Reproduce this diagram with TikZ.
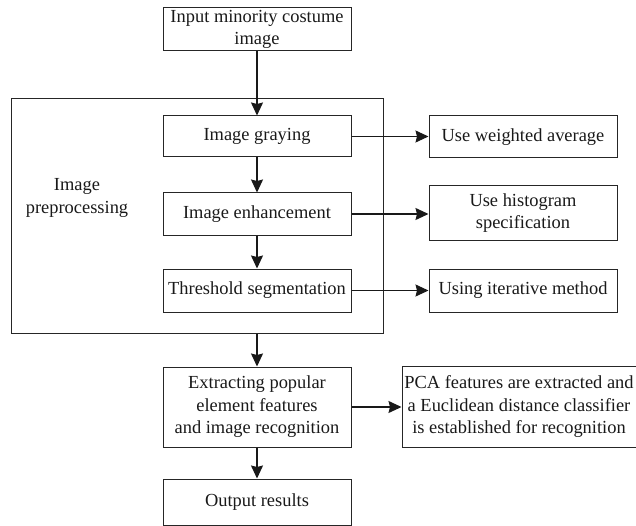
\documentclass[tikz,border=0pt]{standalone}
\usepackage{fontspec}
\setmainfont{Liberation Serif}
\usetikzlibrary{arrows.meta}
\begin{document}
\begin{tikzpicture}[x=1bp,y=-1bp,
  every node/.style={font=\fontsize{18.5}{22.5}\selectfont, text=black!90},
  box/.style={draw=black!85, line width=1bp, minimum width=188bp, inner sep=0pt, align=center},
  conn/.style={draw=black!90, line width=1.2bp, -{Stealth[length=13bp,width=12bp,inset=1.5bp]}},
]
\useasboundingbox (0,0) rectangle (636,526);
% outer preprocessing frame
\node[draw=black!85, line width=1bp, minimum width=371bp, minimum height=234bp, inner sep=0pt] (outer) at (197.5,216) {};
\node[align=center] (plabel) at (77,198) {Image\\preprocessing};

\node[box, minimum height=43bp] (input) at (257,29.5) {Input minority costume\\image};
\node[box, minimum height=41bp] (gray) at (257,136.5) {Image graying};
\node[box, minimum height=42bp] (enh) at (257,214) {Image enhancement};
\node[box, minimum height=43bp] (thr) at (257,290.5) {Threshold segmentation};
\node[box, minimum height=80bp] (ext) at (257,407) {Extracting popular\\element features\\and image recognition};
\node[box, minimum height=46bp] (out) at (257,502) {Output results};

\node[box, minimum height=42bp] (wavg) at (523,137) {Use weighted average};
\node[box, minimum height=54bp] (hist) at (523,213) {Use histogram\\specification};
\node[box, minimum height=43bp] (iter) at (523,290.5) {Using iterative method};
\node[box, minimum width=234bp, minimum height=81bp] (pca) at (519,406.5) {PCA features are extracted and\\a Euclidean distance classifier\\is established for recognition};

\draw[conn] (input) -- (gray);
\draw[conn] (gray) -- (enh);
\draw[conn] (enh) -- (thr);
\coordinate (ob) at (ext.north |- outer.south);
\draw[conn] (ob) -- (ext);
\draw[conn] (ext) -- (out);

\draw[conn] (gray.east) -- (gray.east -| wavg.west);
\draw[conn] (enh.east) -- (enh.east -| hist.west);
\draw[conn] (thr.east) -- (thr.east -| iter.west);
\draw[conn] (ext.east) -- (ext.east -| pca.west);
\end{tikzpicture}
\end{document}
